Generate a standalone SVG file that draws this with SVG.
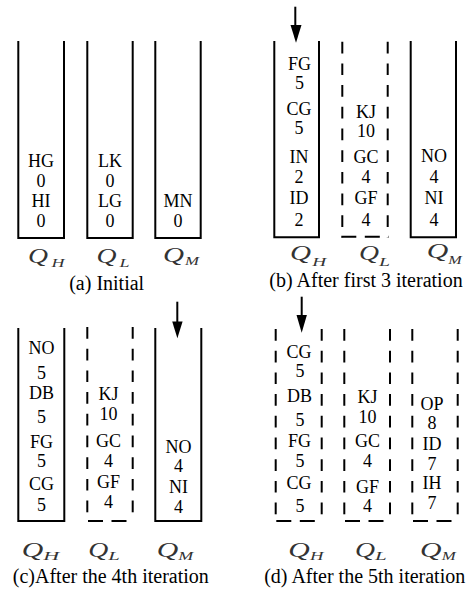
<svg xmlns="http://www.w3.org/2000/svg" width="471" height="591" viewBox="0 0 471 591">
<style>
.bg{fill:#fff}
.box{fill:none;stroke:#000;stroke-width:2}
.dv{fill:none;stroke:#000;stroke-width:2;stroke-dasharray:11.7 10}
.dh{fill:none;stroke:#000;stroke-width:2;stroke-dasharray:15 8.5}
.t{font-family:"Liberation Serif","Times New Roman",serif;font-size:18px;fill:#000;text-anchor:middle}
.cap{font-family:"Liberation Serif","Times New Roman",serif;font-size:20px;fill:#000;text-anchor:middle}
.q{font-family:"Liberation Serif","Times New Roman",serif;font-style:italic;font-size:20px;fill:#333}
.s{font-family:"Liberation Serif","Times New Roman",serif;font-style:italic;font-size:13.5px;fill:#333}
.arr{stroke:#000;stroke-width:2}
.head{fill:#000}
</style>
<rect class="bg" x="0" y="0" width="471" height="591"/>

<!-- Panel (a) -->
<g id="a-QH">
<path class="box" d="M18.3,41 V238 H64 V41"/>
<text class="t" x="41" y="167">HG</text><text class="t" x="41" y="187">0</text>
<text class="t" x="41" y="207">HI</text><text class="t" x="41" y="227">0</text>
<text class="q" x="28" y="263" textLength="20" lengthAdjust="spacingAndGlyphs">Q</text>
<text class="s" x="51.5" y="267" textLength="13" lengthAdjust="spacingAndGlyphs">H</text>
</g>
<g id="a-QL">
<path class="box" d="M87.3,41 V238 H132.7 V41"/>
<text class="t" x="110" y="167">LK</text><text class="t" x="110" y="187">0</text>
<text class="t" x="110" y="207">LG</text><text class="t" x="110" y="227">0</text>
<text class="q" x="96.5" y="263" textLength="20" lengthAdjust="spacingAndGlyphs">Q</text>
<text class="s" x="119.5" y="267" textLength="10" lengthAdjust="spacingAndGlyphs">L</text>
</g>
<g id="a-QM">
<path class="box" d="M155.3,41 V238 H200.7 V41"/>
<text class="t" x="178" y="207">MN</text><text class="t" x="178" y="227">0</text>
<text class="q" x="163" y="261.5" textLength="21" lengthAdjust="spacingAndGlyphs">Q</text>
<text class="s" x="185" y="264.5" textLength="14" lengthAdjust="spacingAndGlyphs">M</text>
</g>
<text class="cap" x="106.7" y="289.5">(a) Initial</text>

<!-- Panel (b) -->
<g id="b-QH">
<path class="box" d="M274.3,41 V237.3 H319 V41"/>
<text class="t" x="299.5" y="70">FG</text><text class="t" x="299.5" y="89.3">5</text>
<text class="t" x="299" y="115">CG</text><text class="t" x="299" y="134">5</text>
<text class="t" x="299" y="163.3">IN</text><text class="t" x="299" y="183.3">2</text>
<text class="t" x="299" y="204">ID</text><text class="t" x="299" y="225.7">2</text>
<text class="q" x="290" y="260" textLength="21" lengthAdjust="spacingAndGlyphs">Q</text>
<text class="s" x="312.3" y="266" textLength="14" lengthAdjust="spacingAndGlyphs">H</text>
</g>
<g id="b-QL">
<line class="dv" x1="342.3" y1="41.7" x2="342.3" y2="237.3"/>
<line class="dv" x1="387.7" y1="41.7" x2="387.7" y2="237.3"/>
<line class="dh" x1="341.3" y1="236.7" x2="388.7" y2="236.7"/>
<text class="t" x="366" y="118.3">KJ</text><text class="t" x="366" y="136.7">10</text>
<text class="t" x="366" y="162.7">GC</text><text class="t" x="366" y="182.7">4</text>
<text class="t" x="366" y="204">GF</text><text class="t" x="366" y="225.7">4</text>
<text class="q" x="359" y="259.5" textLength="20" lengthAdjust="spacingAndGlyphs">Q</text>
<text class="s" x="379" y="265.5" textLength="11" lengthAdjust="spacingAndGlyphs">L</text>
</g>
<g id="b-QM">
<path class="box" d="M410.7,41 V237.3 H456 V41"/>
<text class="t" x="434" y="161.7">NO</text><text class="t" x="434" y="182.7">4</text>
<text class="t" x="434" y="204">NI</text><text class="t" x="434" y="225.7">4</text>
<text class="q" x="426.7" y="258.3" textLength="21.5" lengthAdjust="spacingAndGlyphs">Q</text>
<text class="s" x="448.3" y="263.5" textLength="13.5" lengthAdjust="spacingAndGlyphs">M</text>
</g>
<text class="cap" x="366" y="287">(b) After first 3 iteration</text>

<!-- Panel (c) -->
<g id="c-QH">
<path class="box" d="M18.3,328 V521 H64.3 V328"/>
<text class="t" x="41.5" y="354">NO</text><text class="t" x="41.5" y="379.3">5</text>
<text class="t" x="41.5" y="399.3">DB</text><text class="t" x="41.5" y="423.3">5</text>
<text class="t" x="41.5" y="448">FG</text><text class="t" x="41.5" y="467">5</text>
<text class="t" x="41.5" y="490">CG</text><text class="t" x="41.5" y="510.7">5</text>
<text class="q" x="21.7" y="556.7" textLength="21.5" lengthAdjust="spacingAndGlyphs">Q</text>
<text class="s" x="43.3" y="560" textLength="16" lengthAdjust="spacingAndGlyphs">H</text>
</g>
<g id="c-QL">
<line class="dv" x1="87.3" y1="327" x2="87.3" y2="521"/>
<line class="dv" x1="132.7" y1="327" x2="132.7" y2="521"/>
<line class="dh" x1="88" y1="521" x2="133.3" y2="521"/>
<text class="t" x="108.5" y="400">KJ</text><text class="t" x="108.5" y="420">10</text>
<text class="t" x="108.5" y="446.7">GC</text><text class="t" x="108.5" y="466.7">4</text>
<text class="t" x="108.5" y="488.3">GF</text><text class="t" x="108.5" y="508.3">4</text>
<text class="q" x="88.3" y="556.7" textLength="20" lengthAdjust="spacingAndGlyphs">Q</text>
<text class="s" x="108.3" y="560" textLength="11.5" lengthAdjust="spacingAndGlyphs">L</text>
</g>
<g id="c-QM">
<path class="box" d="M155.3,328 V521 H201.3 V328"/>
<text class="t" x="178.5" y="452.7">NO</text><text class="t" x="178.5" y="471.7">4</text>
<text class="t" x="178.5" y="493.3">NI</text><text class="t" x="178.5" y="512.7">4</text>
<text class="q" x="156.7" y="556.7" textLength="21.5" lengthAdjust="spacingAndGlyphs">Q</text>
<text class="s" x="178.3" y="560" textLength="15" lengthAdjust="spacingAndGlyphs">M</text>
</g>
<text class="cap" x="110.8" y="583">(c)After the 4th iteration</text>

<!-- Panel (d) -->
<g id="d-QH">
<line class="dv" x1="275.7" y1="329" x2="275.7" y2="521"/>
<line class="dv" x1="321.7" y1="329" x2="321.7" y2="521"/>
<line class="dh" x1="276.3" y1="521" x2="322" y2="521"/>
<text class="t" x="299" y="358.3">CG</text><text class="t" x="300" y="377.3">5</text>
<text class="t" x="299.5" y="401.7">DB</text><text class="t" x="300" y="426.3">5</text>
<text class="t" x="299.5" y="446.7">FG</text><text class="t" x="300" y="466.7">5</text>
<text class="t" x="299" y="488.8">CG</text><text class="t" x="300" y="511.7">5</text>
<text class="q" x="288.3" y="556.7" textLength="21.5" lengthAdjust="spacingAndGlyphs">Q</text>
<text class="s" x="310" y="560" textLength="13.5" lengthAdjust="spacingAndGlyphs">H</text>
</g>
<g id="d-QL">
<line class="dv" x1="344.3" y1="329" x2="344.3" y2="521"/>
<line class="dv" x1="390" y1="329" x2="390" y2="521"/>
<line class="dh" x1="345" y1="521" x2="390.5" y2="521"/>
<text class="t" x="367.5" y="403.3">KJ</text><text class="t" x="367.5" y="422.7">10</text>
<text class="t" x="367.5" y="446.7">GC</text><text class="t" x="367.5" y="466.7">4</text>
<text class="t" x="367.5" y="493">GF</text><text class="t" x="367.5" y="512">4</text>
<text class="q" x="355" y="556.7" textLength="20" lengthAdjust="spacingAndGlyphs">Q</text>
<text class="s" x="375" y="560" textLength="11.7" lengthAdjust="spacingAndGlyphs">L</text>
</g>
<g id="d-QM">
<line class="dv" x1="412.3" y1="329" x2="412.3" y2="521"/>
<line class="dv" x1="457.7" y1="329" x2="457.7" y2="521"/>
<line class="dh" x1="413" y1="521" x2="458" y2="521"/>
<text class="t" x="432" y="409.5">OP</text><text class="t" x="432" y="428.8">8</text>
<text class="t" x="432" y="450">ID</text><text class="t" x="432" y="469.5">7</text>
<text class="t" x="432" y="488.8">IH</text><text class="t" x="432" y="509">7</text>
<text class="q" x="420" y="556.7" textLength="21.5" lengthAdjust="spacingAndGlyphs">Q</text>
<text class="s" x="441.7" y="560" textLength="14" lengthAdjust="spacingAndGlyphs">M</text>
</g>
<text class="cap" x="364.7" y="583">(d) After the 5th iteration</text>

<!-- Pointer arrows -->
<g id="connectors">
<line class="arr" x1="295.3" y1="6.7" x2="295.3" y2="27"/>
<polygon class="head" points="290.5,25 301.5,25 296,42.7"/>
<line class="arr" x1="177.3" y1="301.7" x2="177.3" y2="323"/>
<polygon class="head" points="172.2,321.5 182.6,321.5 177.4,338.3"/>
<line class="arr" x1="301.7" y1="296.7" x2="301.7" y2="316"/>
<polygon class="head" points="296.5,315 306.9,315 301.7,332.7"/>
</g>
</svg>
